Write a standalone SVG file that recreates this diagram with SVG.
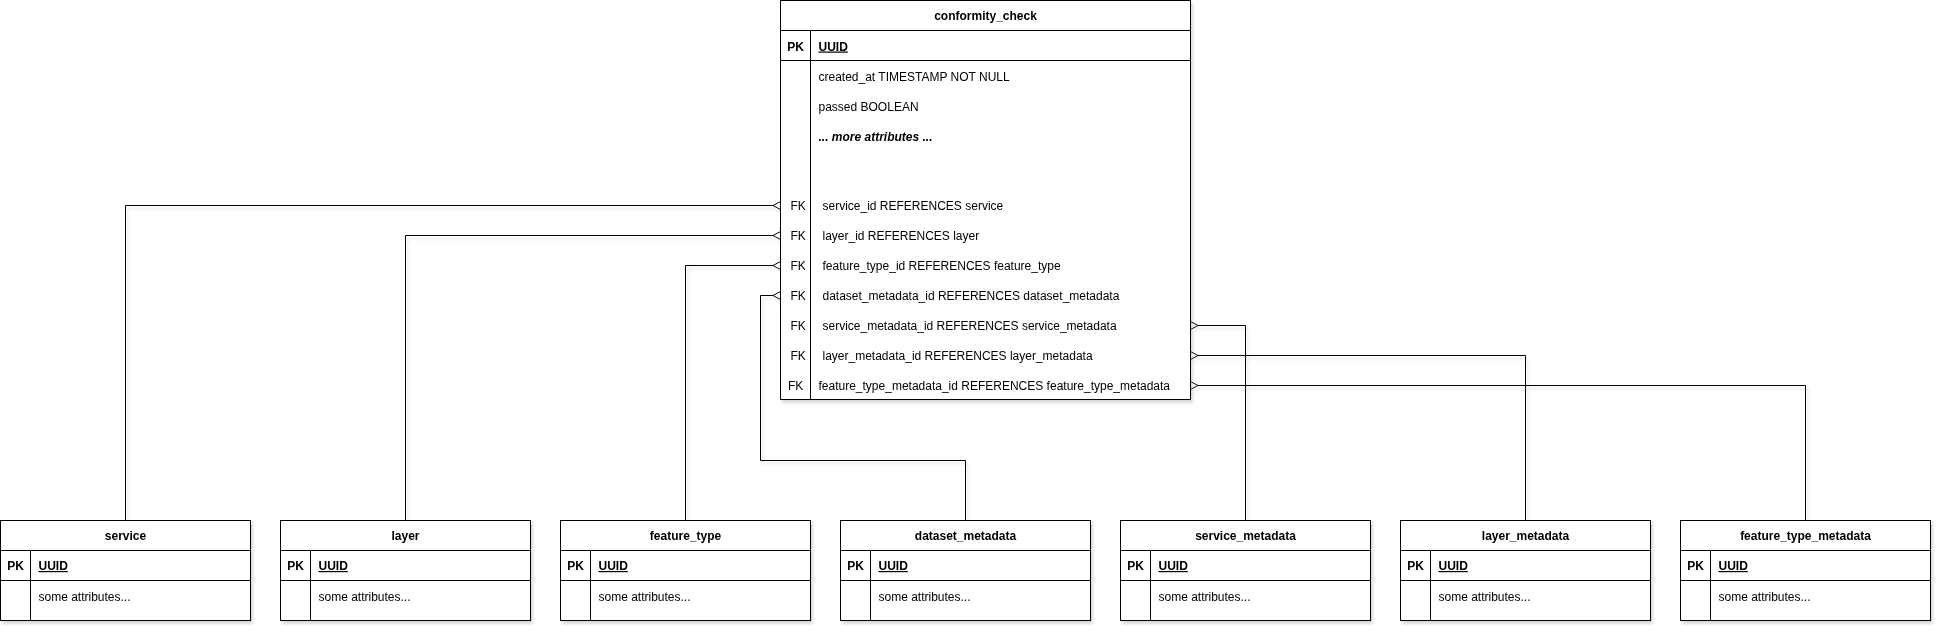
<svg xmlns="http://www.w3.org/2000/svg" width="1942" height="632" viewBox="0 0 1942 632">
<style>
  text { font-family: "Liberation Sans", Arial, sans-serif; font-size: 12px; fill: #000; }
  .b { font-weight: bold; }
  .u { text-decoration: underline; }
  .bi { font-weight: bold; font-style: italic; }
  .c { text-anchor: middle; }
  .box { fill: #fff; stroke: #000; stroke-width: 1; }
  .ln { fill: none; stroke: #000; stroke-width: 1; }
  .conn path { fill: none; stroke: #000; stroke-width: 1; }
</style>
<defs>
  <filter id="sh" x="-5%" y="-5%" width="115%" height="115%">
    <feDropShadow dx="2" dy="3" stdDeviation="1.5" flood-color="#808080" flood-opacity="0.3"/>
  </filter>
</defs>
<rect width="1942" height="632" fill="#fff"/>

<g id="connectors" class="conn" filter="url(#sh)">
  <!-- service -->
  <path d="M773 205.5 H125.5 V520.5"/>
  <path d="M780.5 201.5 L773 205.5 L780.5 209.5"/>
  <!-- layer -->
  <path d="M773 235.5 H405.5 V520.5"/>
  <path d="M780.5 231.5 L773 235.5 L780.5 239.5"/>
  <!-- feature_type -->
  <path d="M773 265.5 H685.5 V520.5"/>
  <path d="M780.5 261.5 L773 265.5 L780.5 269.5"/>
  <!-- dataset_metadata -->
  <path d="M773 295.5 H760.5 V460.5 H965.5 V520.5"/>
  <path d="M780.5 291.5 L773 295.5 L780.5 299.5"/>
  <!-- service_metadata -->
  <path d="M1198 325.5 H1245.5 V520.5"/>
  <path d="M1190.5 321.5 L1198 325.5 L1190.5 329.5"/>
  <!-- layer_metadata -->
  <path d="M1198 355.5 H1525.5 V520.5"/>
  <path d="M1190.5 351.5 L1198 355.5 L1190.5 359.5"/>
  <!-- feature_type_metadata -->
  <path d="M1198 385.5 H1805.5 V520.5"/>
  <path d="M1190.5 381.5 L1198 385.5 L1190.5 389.5"/>
</g>

<g id="conformity_check" filter="url(#sh)">
  <rect class="box" x="780.5" y="0.5" width="410" height="399"/>
  <path class="ln" d="M780.5 30.5 H1190.5 M780.5 60.5 H1190.5 M810.5 30.5 V399.5"/>
  <text class="b c" x="985.5" y="20">conformity_check</text>
  <text class="b c" x="795.5" y="50.5">PK</text>
  <text class="b u" x="818.5" y="50.5">UUID</text>
  <text x="818.5" y="80.5">created_at TIMESTAMP NOT NULL</text>
  <text x="818.5" y="110.5">passed BOOLEAN</text>
  <text class="bi" x="818.5" y="140.5">... more attributes ...</text>
  <text x="790.5" y="210">FK</text>
  <text x="822.5" y="210">service_id REFERENCES service</text>
  <text x="790.5" y="240">FK</text>
  <text x="822.5" y="240">layer_id REFERENCES layer</text>
  <text x="790.5" y="270">FK</text>
  <text x="822.5" y="270">feature_type_id REFERENCES feature_type</text>
  <text x="790.5" y="300">FK</text>
  <text x="822.5" y="300">dataset_metadata_id REFERENCES dataset_metadata</text>
  <text x="790.5" y="330">FK</text>
  <text x="822.5" y="330">service_metadata_id REFERENCES service_metadata</text>
  <text x="790.5" y="360">FK</text>
  <text x="822.5" y="360">layer_metadata_id REFERENCES layer_metadata</text>
  <text x="788" y="390">FK</text>
  <text x="818.5" y="390">feature_type_metadata_id REFERENCES feature_type_metadata</text>
</g>

<g id="service" filter="url(#sh)" transform="translate(0,0)">
  <rect class="box" x="0.5" y="520.5" width="250" height="100"/>
  <path class="ln" d="M0.5 550.5 H250.5 M0.5 580.5 H250.5 M30.5 550.5 V620.5"/>
  <text class="b c" x="125.5" y="540">service</text>
  <text class="b c" x="15.5" y="570">PK</text>
  <text class="b u" x="38.5" y="570">UUID</text>
  <text x="38.5" y="600.5">some attributes...</text>
</g>
<g id="layer" filter="url(#sh)" transform="translate(280,0)">
  <rect class="box" x="0.5" y="520.5" width="250" height="100"/>
  <path class="ln" d="M0.5 550.5 H250.5 M0.5 580.5 H250.5 M30.5 550.5 V620.5"/>
  <text class="b c" x="125.5" y="540">layer</text>
  <text class="b c" x="15.5" y="570">PK</text>
  <text class="b u" x="38.5" y="570">UUID</text>
  <text x="38.5" y="600.5">some attributes...</text>
</g>
<g id="feature_type" filter="url(#sh)" transform="translate(560,0)">
  <rect class="box" x="0.5" y="520.5" width="250" height="100"/>
  <path class="ln" d="M0.5 550.5 H250.5 M0.5 580.5 H250.5 M30.5 550.5 V620.5"/>
  <text class="b c" x="125.5" y="540">feature_type</text>
  <text class="b c" x="15.5" y="570">PK</text>
  <text class="b u" x="38.5" y="570">UUID</text>
  <text x="38.5" y="600.5">some attributes...</text>
</g>
<g id="dataset_metadata" filter="url(#sh)" transform="translate(840,0)">
  <rect class="box" x="0.5" y="520.5" width="250" height="100"/>
  <path class="ln" d="M0.5 550.5 H250.5 M0.5 580.5 H250.5 M30.5 550.5 V620.5"/>
  <text class="b c" x="125.5" y="540">dataset_metadata</text>
  <text class="b c" x="15.5" y="570">PK</text>
  <text class="b u" x="38.5" y="570">UUID</text>
  <text x="38.5" y="600.5">some attributes...</text>
</g>
<g id="service_metadata" filter="url(#sh)" transform="translate(1120,0)">
  <rect class="box" x="0.5" y="520.5" width="250" height="100"/>
  <path class="ln" d="M0.5 550.5 H250.5 M0.5 580.5 H250.5 M30.5 550.5 V620.5"/>
  <text class="b c" x="125.5" y="540">service_metadata</text>
  <text class="b c" x="15.5" y="570">PK</text>
  <text class="b u" x="38.5" y="570">UUID</text>
  <text x="38.5" y="600.5">some attributes...</text>
</g>
<g id="layer_metadata" filter="url(#sh)" transform="translate(1400,0)">
  <rect class="box" x="0.5" y="520.5" width="250" height="100"/>
  <path class="ln" d="M0.5 550.5 H250.5 M0.5 580.5 H250.5 M30.5 550.5 V620.5"/>
  <text class="b c" x="125.5" y="540">layer_metadata</text>
  <text class="b c" x="15.5" y="570">PK</text>
  <text class="b u" x="38.5" y="570">UUID</text>
  <text x="38.5" y="600.5">some attributes...</text>
</g>
<g id="feature_type_metadata" filter="url(#sh)" transform="translate(1680,0)">
  <rect class="box" x="0.5" y="520.5" width="250" height="100"/>
  <path class="ln" d="M0.5 550.5 H250.5 M0.5 580.5 H250.5 M30.5 550.5 V620.5"/>
  <text class="b c" x="125.5" y="540">feature_type_metadata</text>
  <text class="b c" x="15.5" y="570">PK</text>
  <text class="b u" x="38.5" y="570">UUID</text>
  <text x="38.5" y="600.5">some attributes...</text>
</g>
</svg>
